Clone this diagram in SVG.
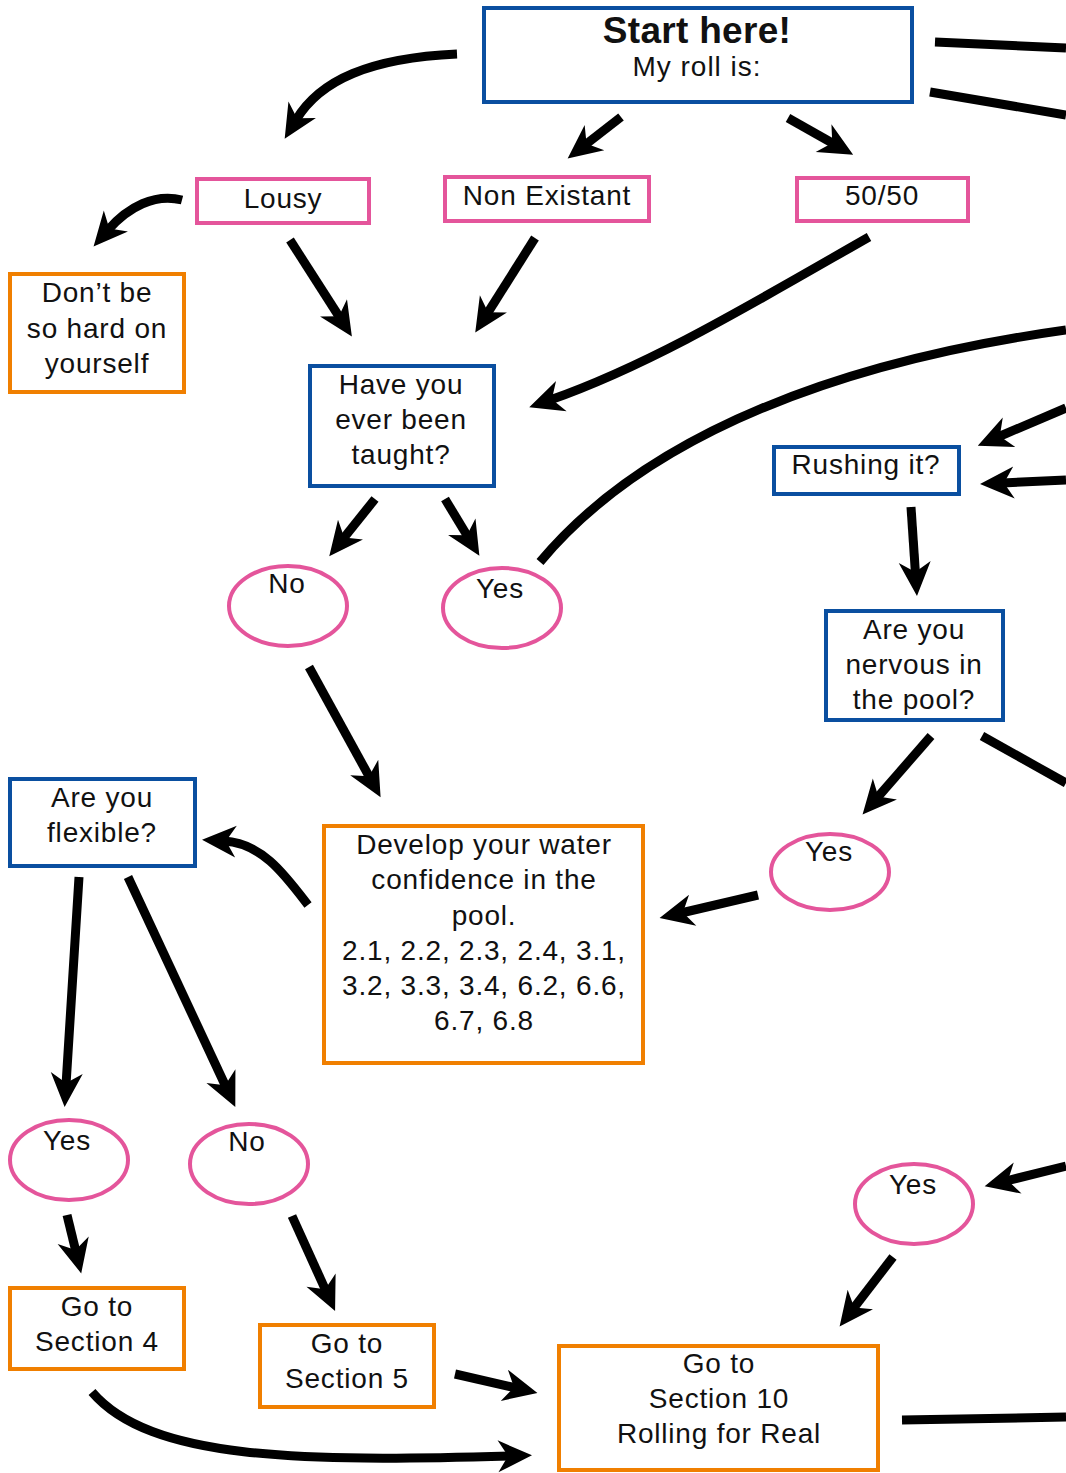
<svg xmlns="http://www.w3.org/2000/svg" width="1066" height="1473" viewBox="0 0 1066 1473">
<style>
.blue{fill:#fff;stroke:#0a4fa0;stroke-width:4}
.pink{fill:#fff;stroke:#e4559b;stroke-width:4}
.orange{fill:#fff;stroke:#f07f00;stroke-width:4}
text{font-family:"Liberation Sans",Arial,sans-serif;font-size:28px;letter-spacing:0.8px;fill:#111;text-anchor:middle}
.c path{fill:none;stroke:#000;stroke-width:9}
.a{marker-end:url(#ah)}
</style>
<defs>
<marker id="ah" markerUnits="userSpaceOnUse" markerWidth="40" markerHeight="40" refX="14" refY="20" orient="auto">
<path d="M36,20 L2,4 L12,20 L2,36 Z" fill="#000"/>
</marker>
</defs>
<rect width="1066" height="1473" fill="#fff"/>
<g class="c">
<path d="M935,42 L1066,48"/>
<path d="M930,92 L1066,115"/>
<path class="a" d="M457,54 C370,58 320,80 296,120"/>
<path class="a" d="M621,117 L585,145"/>
<path class="a" d="M788,118 L834,144"/>
<path class="a" d="M182,200 C155,193 128,207 108,230"/>
<path class="a" d="M290,240 L340,318"/>
<path class="a" d="M535,238 L487,314"/>
<path class="a" d="M869,237 C750,305 650,365 550,400"/>
<path d="M540,562 C650,430 850,360 1066,330"/>
<path class="a" d="M375,499 L343,539"/>
<path class="a" d="M445,499 L468,537"/>
<path class="a" d="M1066,408 L998,437"/>
<path class="a" d="M1066,480 L1002,483"/>
<path class="a" d="M911,507 L915.5,574"/>
<path class="a" d="M931,736 L877,798"/>
<path d="M982,736 L1066,783"/>
<path class="a" d="M309,667 L370,778"/>
<path class="a" d="M758,895 L681,913"/>
<path class="a" d="M308,905 C285,875 262,843 224,841"/>
<path class="a" d="M79,877 L66,1085"/>
<path class="a" d="M128,877 L226,1087"/>
<path class="a" d="M67,1215 L76,1252"/>
<path class="a" d="M292,1216 L326,1291"/>
<path class="a" d="M455,1374 L516,1388"/>
<path class="a" d="M92,1392 C150,1460 300,1462 510,1456"/>
<path class="a" d="M1066,1166 L1006,1181"/>
<path class="a" d="M893,1257 L853,1309"/>
<path d="M902,1420 L1066,1417"/>
</g>
<g id="start"><rect class="blue" x="484" y="8" width="428" height="94"/><text x="697" y="43" style="font-weight:bold;font-size:37px;letter-spacing:0.3px">Start here!</text><text x="697" y="76" style="letter-spacing:1px">My roll is:</text></g>
<g id="lousy"><rect class="pink" x="197" y="179" width="172" height="44"/><text x="283" y="208">Lousy</text></g>
<g id="nonexistant"><rect class="pink" x="445" y="177" width="204" height="44"/><text x="547" y="205">Non Existant</text></g>
<g id="fifty"><rect class="pink" x="797" y="178" width="171" height="43"/><text x="882" y="205">50/50</text></g>
<g id="dontbe"><rect class="orange" x="10" y="274" width="174" height="118"/><text x="97" y="302">Don’t be</text><text x="97" y="338">so hard on</text><text x="97" y="373">yourself</text></g>
<g id="taught"><rect class="blue" x="310" y="366" width="184" height="120"/><text x="401" y="394">Have you</text><text x="401" y="429">ever been</text><text x="401" y="464">taught?</text></g>
<g id="rushing"><rect class="blue" x="774" y="447" width="185" height="47"/><text x="866" y="474">Rushing it?</text></g>
<g id="nervous"><rect class="blue" x="826" y="611" width="177" height="109"/><text x="914" y="639">Are you</text><text x="914" y="674">nervous in</text><text x="914" y="709">the pool?</text></g>
<g id="no1"><ellipse class="pink" cx="288" cy="606" rx="59" ry="40"/><text x="287" y="593">No</text></g>
<g id="yes1"><ellipse class="pink" cx="502" cy="608" rx="59" ry="40"/><text x="500" y="598">Yes</text></g>
<g id="yes2"><ellipse class="pink" cx="830" cy="872" rx="59" ry="38"/><text x="829" y="861">Yes</text></g>
<g id="flexible"><rect class="blue" x="10" y="779" width="185" height="87"/><text x="102" y="807">Are you</text><text x="102" y="842">flexible?</text></g>
<g id="develop"><rect class="orange" x="324" y="826" width="319" height="237"/><text x="484" y="854">Develop your water</text><text x="484" y="889">confidence in the</text><text x="484" y="925">pool.</text><text x="484" y="960">2.1, 2.2, 2.3, 2.4, 3.1,</text><text x="484" y="995">3.2, 3.3, 3.4, 6.2, 6.6,</text><text x="484" y="1030">6.7, 6.8</text></g>
<g id="yes3"><ellipse class="pink" cx="69" cy="1160" rx="59" ry="40"/><text x="67" y="1150">Yes</text></g>
<g id="no2"><ellipse class="pink" cx="249" cy="1164" rx="59" ry="40"/><text x="247" y="1151">No</text></g>
<g id="yes4"><ellipse class="pink" cx="914" cy="1204" rx="59" ry="40"/><text x="913" y="1194">Yes</text></g>
<g id="sec4"><rect class="orange" x="10" y="1288" width="174" height="81"/><text x="97" y="1316">Go to</text><text x="97" y="1351">Section 4</text></g>
<g id="sec5"><rect class="orange" x="260" y="1325" width="174" height="82"/><text x="347" y="1353">Go to</text><text x="347" y="1388">Section 5</text></g>
<g id="sec10"><rect class="orange" x="559" y="1346" width="319" height="124"/><text x="719" y="1373">Go to</text><text x="719" y="1408">Section 10</text><text x="719" y="1443">Rolling for Real</text></g>
</svg>
